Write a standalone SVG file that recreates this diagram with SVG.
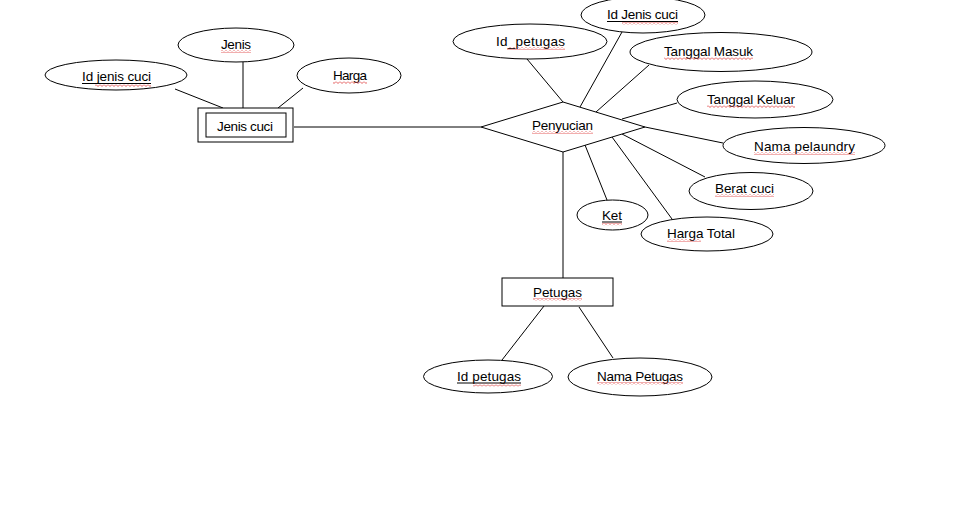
<svg xmlns="http://www.w3.org/2000/svg" width="971" height="509" viewBox="0 0 971 509">
<style>
.s{fill:#fff;stroke:#000;stroke-width:1}
.l{stroke:#000;stroke-width:1;fill:none}
.t{font-family:"Liberation Sans",Arial,sans-serif;font-size:13.5px;fill:#000}
.u{stroke:#000;stroke-width:1}
.w{fill:url(#wave)}
</style>
<defs>
<pattern id="wave" width="4" height="3" patternUnits="userSpaceOnUse">
<path d="M0,0.5 L2,2.5 L4,0.5" fill="none" stroke="#d33" stroke-width="0.8"/>
</pattern>
</defs>
<rect width="971" height="509" fill="#fff"/>
<g id="connectors">
<line class="l" x1="175" y1="89" x2="223" y2="108"/>
<line class="l" x1="243" y1="62" x2="243" y2="108"/>
<line class="l" x1="303" y1="88" x2="278" y2="108"/>
<line class="l" x1="294" y1="127" x2="481" y2="127"/>
<line class="l" x1="527" y1="59" x2="563" y2="102"/>
<line class="l" x1="622" y1="32" x2="580" y2="107"/>
<line class="l" x1="649" y1="65" x2="596" y2="112"/>
<line class="l" x1="677" y1="103" x2="622" y2="119"/>
<line class="l" x1="645" y1="127" x2="723" y2="143"/>
<line class="l" x1="622" y1="134" x2="705" y2="177"/>
<line class="l" x1="612" y1="137" x2="672" y2="219"/>
<line class="l" x1="585" y1="145" x2="607" y2="200"/>
<line class="l" x1="563" y1="152" x2="563" y2="278"/>
<line class="l" x1="544" y1="306" x2="502" y2="360"/>
<line class="l" x1="579" y1="307" x2="613" y2="358"/>
</g>
<g id="jenis-cuci">
<rect class="s" x="198" y="108" width="95" height="34"/>
<rect class="s" x="206" y="113" width="80" height="24"/>
<text class="t" x="217" y="131" textLength="56">Jenis cuci</text>
</g>
<g id="attr-id-jenis-cuci">
<ellipse class="s" cx="116" cy="75" rx="71" ry="15"/>
<text class="t" x="82" y="81" textLength="69">Id jenis cuci</text>
<line class="u" x1="82" y1="83.5" x2="151" y2="83.5"/>
<rect class="w" x="95" y="84" width="56" height="3"/>
</g>
<g id="attr-jenis">
<ellipse class="s" cx="236" cy="45" rx="58" ry="17"/>
<text class="t" x="221" y="49" textLength="30">Jenis</text>
<rect class="w" x="221" y="50" width="30" height="3"/>
</g>
<g id="attr-harga">
<ellipse class="s" cx="349" cy="75.5" rx="52" ry="17.5"/>
<text class="t" x="333" y="80" textLength="34">Harga</text>
<rect class="w" x="333" y="81" width="34" height="3"/>
</g>
<g id="penyucian">
<polygon class="s" points="481,127 563,102 645,127 563,152"/>
<text class="t" x="532" y="130" textLength="61">Penyucian</text>
<rect class="w" x="532" y="131" width="61" height="3"/>
</g>
<g id="attr-id-petugas-rel">
<ellipse class="s" cx="530" cy="41.5" rx="77" ry="17.5"/>
<text class="t" x="496" y="46" textLength="69">Id_petugas</text>
<rect class="w" x="507" y="47" width="58" height="3"/>
</g>
<g id="attr-id-jenis-cuci-rel">
<ellipse class="s" cx="643" cy="15" rx="62" ry="18"/>
<text class="t" x="607" y="19" textLength="71">Id Jenis cuci</text>
<line class="u" x1="607" y1="21.5" x2="678" y2="21.5"/>
<rect class="w" x="622" y="22" width="56" height="3"/>
</g>
<g id="attr-tanggal-masuk">
<ellipse class="s" cx="721" cy="52" rx="91" ry="19.5"/>
<text class="t" x="664" y="56" textLength="89">Tanggal Masuk</text>
<rect class="w" x="664" y="57" width="89" height="3"/>
</g>
<g id="attr-tanggal-keluar">
<ellipse class="s" cx="755" cy="99.5" rx="78" ry="18.5"/>
<text class="t" x="707" y="104" textLength="88">Tanggal Keluar</text>
<rect class="w" x="707" y="105" width="88" height="3"/>
</g>
<g id="attr-nama-pelaundry">
<ellipse class="s" cx="804" cy="145.5" rx="81" ry="18"/>
<text class="t" x="754" y="151" textLength="101">Nama pelaundry</text>
<rect class="w" x="754" y="152" width="101" height="3"/>
</g>
<g id="attr-berat-cuci">
<ellipse class="s" cx="751" cy="191" rx="62" ry="18.5"/>
<text class="t" x="715" y="193" textLength="59">Berat cuci</text>
<rect class="w" x="715" y="194" width="59" height="3"/>
</g>
<g id="attr-ket">
<ellipse class="s" cx="612.5" cy="215" rx="35.5" ry="15"/>
<text class="t" x="602" y="220" textLength="20">Ket</text>
<line class="u" x1="602" y1="222" x2="622" y2="222"/>
<rect class="w" x="602" y="222.5" width="20" height="3"/>
</g>
<g id="attr-harga-total">
<ellipse class="s" cx="707" cy="234" rx="66" ry="17"/>
<text class="t" x="667" y="238" textLength="68">Harga Total</text>
<rect class="w" x="667" y="239" width="34" height="3"/>
</g>
<g id="petugas">
<rect class="s" x="502" y="278" width="111" height="28"/>
<text class="t" x="533" y="297" textLength="49">Petugas</text>
<rect class="w" x="533" y="298" width="49" height="3"/>
</g>
<g id="attr-id-petugas">
<ellipse class="s" cx="488" cy="376.5" rx="64.5" ry="16.5"/>
<text class="t" x="457" y="381" textLength="64">Id petugas</text>
<line class="u" x1="457" y1="383" x2="521" y2="383"/>
<rect class="w" x="473" y="383.5" width="48" height="3"/>
</g>
<g id="attr-nama-petugas">
<ellipse class="s" cx="640" cy="377" rx="72" ry="19"/>
<text class="t" x="597" y="381" textLength="86">Nama Petugas</text>
<rect class="w" x="597" y="382" width="86" height="3"/>
</g>
</svg>
